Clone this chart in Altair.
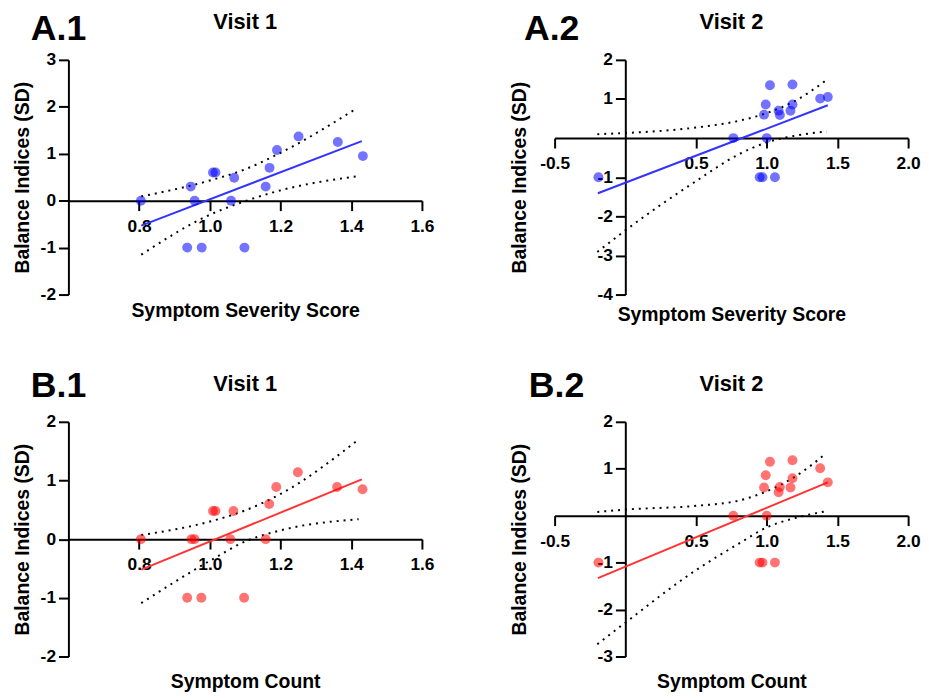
import altair as alt
import pandas as pd

FONT = "Liberation Sans, Arial, sans-serif"

# ---------------- data ----------------
# Panel A.1 (Visit 1, Symptom Severity Score)
A1_x = [0.805, 0.946, 0.957, 1.009, 1.016, 1.069, 1.060, 0.936, 0.977, 1.098, 1.158, 1.169, 1.190, 1.251, 1.362, 1.433]
A1_y = [0.0, 0.30, 0.0, 0.60, 0.60, 0.49, 0.0, -1.0, -1.0, -1.0, 0.30, 0.70, 1.08, 1.37, 1.25, 0.95]
A1_fit_x = [0.806, 1.43]
A1_fit_y = [-0.53, 1.27]
A1_up_x = [0.806, 1.0, 1.1, 1.2, 1.416]
A1_up_y = [0.09, 0.43, 0.67, 1.02, 1.97]
A1_lo_x = [0.806, 1.0, 1.1, 1.2, 1.425]
A1_lo_y = [-1.15, -0.30, -0.01, 0.22, 0.53]

# Panel A.2 (Visit 2, Symptom Severity Score)
A2_x = [-0.19, 0.764, 1.0, 0.95, 0.97, 1.058, 1.023, 1.182, 0.993, 0.981, 1.084, 1.093, 1.168, 1.182, 1.378, 1.432]
A2_y = [-1.0, 0.0, 0.0, -1.0, -1.0, -1.0, 1.35, 1.37, 0.86, 0.60, 0.70, 0.59, 0.70, 0.86, 1.01, 1.05]
A2_fit_x = [-0.194, 1.432]
A2_fit_y = [-1.41, 0.84]
A2_up_x = [-0.198, 0.0, 0.5, 0.8, 1.0, 1.2, 1.425]
A2_up_y = [0.10, 0.13, 0.27, 0.44, 0.64, 0.95, 1.49]
A2_lo_x = [-0.198, 0.0, 0.5, 0.8, 1.0, 1.2, 1.425]
A2_lo_y = [-2.91, -2.36, -1.10, -0.42, -0.11, 0.06, 0.17]

# Panel B.1 (Visit 1, Symptom Count)
B1_x = [0.805, 0.948, 0.957, 1.009, 1.016, 1.067, 1.058, 0.936, 0.976, 1.097, 1.158, 1.168, 1.188, 1.249, 1.360, 1.432]
B1_y = [0.0, 0.0, 0.0, 0.48, 0.48, 0.48, 0.0, -1.0, -1.0, -1.0, 0.0, 0.60, 0.89, 1.14, 0.89, 0.85]
B1_fit_x = [0.806, 1.43]
B1_fit_y = [-0.52, 1.02]
B1_up_x = [0.806, 1.0, 1.1, 1.2, 1.421]
B1_up_y = [0.07, 0.30, 0.49, 0.77, 1.70]
B1_lo_x = [0.806, 1.0, 1.1, 1.2, 1.421]
B1_lo_y = [-1.09, -0.37, -0.04, 0.15, 0.34]

# Panel B.2 (Visit 2, Symptom Count)
B2_x = [-0.19, 0.764, 1.0, 0.95, 0.97, 1.058, 1.023, 1.182, 0.993, 0.981, 1.084, 1.093, 1.168, 1.182, 1.378, 1.432]
B2_y = [-1.0, 0.0, 0.0, -1.0, -1.0, -1.0, 1.15, 1.18, 0.86, 0.60, 0.50, 0.61, 0.60, 0.80, 1.01, 0.71]
B2_fit_x = [-0.194, 1.432]
B2_fit_y = [-1.33, 0.71]
B2_up_x = [-0.198, 0.0, 0.5, 0.8, 1.0, 1.2, 1.413]
B2_up_y = [0.08, 0.13, 0.21, 0.32, 0.52, 0.83, 1.31]
B2_lo_x = [-0.198, 0.0, 0.5, 0.8, 1.0, 1.2, 1.413]
B2_lo_y = [-2.74, -2.28, -1.16, -0.60, -0.25, -0.05, 0.09]

# axis ticks
X_TICKS_V1 = [0.8, 1.0, 1.2, 1.4, 1.6]
X_TICKS_V2 = [-0.5, 0.5, 1.0, 1.5, 2.0]
Y_TICKS_A1 = [3, 2, 1, 0, -1, -2]
Y_TICKS_A2 = [2, 1, -1, -2, -3, -4]
Y_TICKS_B1 = [2, 1, 0, -1, -2]
Y_TICKS_B2 = [2, 1, -1, -2, -3]

W, H = 357, 237
FIX_MINUS = "replace(datum.label, '\u2212', '-')"
LABEL_FS = 17.5
TITLE_FS = 19.6


def panel(px, py, fx, fy, ux, uy, lx, ly, xdom, ydom, xticks, yticks,
          xfmt, xtitle, title, tag, tag_dx, tag_dy, pcolor, lcolor,
          title_y, title_x):
    # x axis crosses y at 0, y axis crosses x at 0 (or sits at the left edge)
    y0_from_bottom = (0 - ydom[0]) / (ydom[1] - ydom[0]) * H
    if xdom[0] < 0 < xdom[1]:
        x0_from_left = (0 - xdom[0]) / (xdom[1] - xdom[0]) * W
    else:
        x0_from_left = 0
    common = dict(
        labelExpr=FIX_MINUS, titleFontSize=TITLE_FS, titleFont=FONT,
        titleFontWeight="bold", titleColor="black",
        labelFont=FONT, labelFontSize=LABEL_FS, labelFontWeight="bold", labelColor="black",
        labelFlush=False, labelOverlap=False, labelBound=False,
        domainColor="black", domainWidth=2, tickColor="black", tickWidth=2,
        tickSize=10, grid=False,
    )
    x_axis = alt.Axis(values=xticks, format=xfmt, offset=-y0_from_bottom,
                      title=xtitle, titleY=title_y, labelPadding=7, **common)
    y_axis = alt.Axis(values=yticks, format="d", offset=-x0_from_left,
                      title="Balance Indices (SD)", titleX=title_x,
                      titleBaseline="middle", labelPadding=3, **common)
    xs = alt.Scale(domain=xdom, nice=False, zero=False)
    ys = alt.Scale(domain=ydom, nice=False, zero=False)
    X = alt.X("x:Q", scale=xs, axis=x_axis)
    Y = alt.Y("y:Q", scale=ys, axis=y_axis)

    pts = alt.Chart(pd.DataFrame({"x": px, "y": py})).mark_circle(
        size=100, opacity=0.55, color=pcolor).encode(x=X, y=Y)
    fit = alt.Chart(pd.DataFrame({"x": fx, "y": fy})).mark_line(
        color=lcolor, strokeWidth=2).encode(x=X, y=Y)
    up = alt.Chart(pd.DataFrame({"x": ux, "y": uy})).mark_line(
        color="black", strokeWidth=2, strokeDash=[2, 5], interpolate="monotone"
    ).encode(x=X, y=Y)
    lo = alt.Chart(pd.DataFrame({"x": lx, "y": ly})).mark_line(
        color="black", strokeWidth=2, strokeDash=[2, 5], interpolate="monotone"
    ).encode(x=X, y=Y)
    ttl = alt.Chart(pd.DataFrame({"t": [title]})).mark_text(
        font=FONT, fontSize=22, fontWeight="bold", color="black",
        align="center", baseline="alphabetic"
    ).encode(x=alt.value(W / 2), y=alt.value(-31), text="t:N")
    tg = alt.Chart(pd.DataFrame({"t": [tag]})).mark_text(
        font=FONT, fontSize=36, fontWeight="bold", color="black",
        align="left", baseline="alphabetic"
    ).encode(x=alt.value(tag_dx), y=alt.value(tag_dy), text="t:N")
    return alt.layer(up, lo, fit, pts, ttl, tg).properties(width=W, height=H)


BLUE_P, BLUE_L = "#0000ff", "#3333ff"
RED_P, RED_L = "#ff0000", "#ff3333"

a1 = panel(A1_x, A1_y, A1_fit_x, A1_fit_y, A1_up_x, A1_up_y, A1_lo_x, A1_lo_y,
           [0.6, 1.6], [-2, 3], X_TICKS_V1, Y_TICKS_A1, ".1f",
           "Symptom Severity Score", "Visit 1", "A.1", -38, -20,
           BLUE_P, BLUE_L, 102, -46.5)
a2 = panel(A2_x, A2_y, A2_fit_x, A2_fit_y, A2_up_x, A2_up_y, A2_lo_x, A2_lo_y,
           [-0.5, 2.0], [-4, 2], X_TICKS_V2, Y_TICKS_A2, ".1f",
           "Symptom Severity Score", "Visit 2", "A.2", -31, -20,
           BLUE_P, BLUE_L, 169, -107)
b1 = panel(B1_x, B1_y, B1_fit_x, B1_fit_y, B1_up_x, B1_up_y, B1_lo_x, B1_lo_y,
           [0.6, 1.6], [-2, 2], X_TICKS_V1, Y_TICKS_B1, ".1f",
           "Symptom Count", "Visit 1", "B.1", -38, -25.5,
           RED_P, RED_L, 135, -46.5)
b2 = panel(B2_x, B2_y, B2_fit_x, B2_fit_y, B2_up_x, B2_up_y, B2_lo_x, B2_lo_y,
           [-0.5, 2.0], [-3, 2], X_TICKS_V2, Y_TICKS_B2, ".1f",
           "Symptom Count", "Visit 2", "B.2", -26, -25.5,
           RED_P, RED_L, 158.5, -107)

chart = alt.concat(
    a1, a2, b1, b2, columns=2, spacing={"row": 128.5, "column": 134}, bounds="flush"
).properties(
    padding={"left": 4, "top": 0, "right": 0, "bottom": 0},
    background="white",
).configure_view(stroke=None)

chart.save("out.html", embed_options={"renderer": "svg", "actions": False})
